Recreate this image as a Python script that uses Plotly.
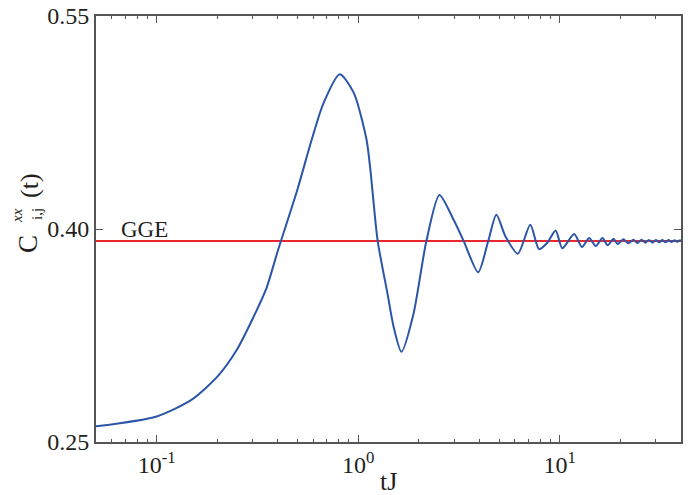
import plotly.graph_objects as go

# Correlation C_ij^xx(t) vs tJ
t_vals = [0.05, 0.10, 0.15, 0.20, 0.25, 0.30, 0.35, 0.40, 0.50, 0.58, 0.67, 0.81,
          0.95, 1.10, 1.15, 1.18, 1.25, 1.40, 1.50, 1.64, 1.88, 2.18, 2.53, 2.98, 3.34, 3.94, 4.42,
          4.85, 5.39, 6.20, 7.15, 7.90, 8.70, 9.55, 10.3, 11.8, 12.9, 14.0, 15.1,
          16.3, 17.3, 18.5, 19.4, 20.7, 21.9, 23.2, 24.3, 25.5, 26.6, 27.7, 28.9,
          30.0, 31.2, 32.3, 33.5, 34.7, 35.9, 37.1, 38.3, 39.5, 40.0]
c_vals = [0.261, 0.268, 0.280, 0.296, 0.315, 0.337, 0.358, 0.385, 0.428, 0.460, 0.488, 0.509,
          0.496, 0.463, 0.4416, 0.4254, 0.3915, 0.354, 0.331, 0.3135, 0.340, 0.3915, 0.424, 0.4063,
          0.3915, 0.3695, 0.3915,
          0.4100, 0.3946, 0.3826, 0.4030, 0.3858, 0.3905, 0.3990, 0.3864, 0.3964, 0.3873, 0.3936, 0.3880,
          0.3936, 0.3885, 0.3931, 0.3894, 0.3927, 0.3899, 0.3925, 0.3902, 0.3924, 0.3904, 0.3923, 0.3905,
          0.3923, 0.3906, 0.3922, 0.3907, 0.3922, 0.3908, 0.3921, 0.3909, 0.3920, 0.3915]

gge_value = 0.3915
gge_t = [0.05, 40.0]

y_ticks = [0.25, 0.40, 0.55]
y_ticktext = ["0.25", "0.40", "0.55"]
x_ticks = [0.1, 1, 10]
x_ticktext = ["10<sup>-1</sup>", "10<sup>0</sup>", "10<sup>1</sup>"]
x_minor = [0.06, 0.07, 0.08, 0.09, 0.2, 0.3, 0.4, 0.5, 0.6, 0.7, 0.8, 0.9,
           2, 3, 4, 5, 6, 7, 8, 9, 20, 30]

TXT = "#231f20"
AX = "#555555"
FONT = "Liberation Serif"

W, H = 688, 495
L, R, T, B = 96, 7, 16, 53
PW, PH = W - L - R, H - T - B


def px(xp):
    return (xp - L) / PW


def py(yp):
    return (H - B - yp) / PH


fig = go.Figure()
fig.add_trace(go.Scatter(x=gge_t, y=[gge_value, gge_value], mode="lines",
                         line=dict(color="#e8282c", width=2), showlegend=False,
                         hoverinfo="skip"))
fig.add_trace(go.Scatter(x=t_vals, y=c_vals, mode="lines",
                         line=dict(color="#2b55a8", width=2, shape="spline", smoothing=0.7),
                         showlegend=False))

fig.add_annotation(x=px(119), y=py(230), xref="paper", yref="paper", text="GGE", showarrow=False,
                   xanchor="left", yanchor="middle", font=dict(family=FONT, size=23, color=TXT))

# x-axis title
fig.add_annotation(x=0.5, y=py(481), xref="paper", yref="paper", text="tJ", showarrow=False,
                   xanchor="center", yanchor="middle", font=dict(family=FONT, size=26, color=TXT))

# y-axis title pieces (stacked super/subscript)
ytitle = [("C", 28, 244, 27, False),
          ("xx", 17, 216, 15, True),
          ("i,j", 37, 214, 15, False),
          ("(t)", 29, 186, 26, False)]
for txt, xx, yy, sz, ital in ytitle:
    fig.add_annotation(x=px(xx), y=py(yy), xref="paper", yref="paper",
                       text=f"<i>{txt}</i>" if ital else txt, showarrow=False, textangle=-90,
                       xanchor="center", yanchor="middle",
                       font=dict(family=FONT, size=sz, color=TXT))

fig.update_xaxes(type="log", range=[-1.301, 1.602], tickvals=x_ticks, ticktext=x_ticktext,
                 ticks="inside", ticklen=7, tickwidth=1, tickcolor=AX,
                 showline=True, linecolor=AX, linewidth=2, mirror="allticks",
                 showgrid=False, zeroline=False, automargin=False,
                 minor=dict(tickvals=x_minor, ticks="inside", ticklen=3, tickcolor=AX, showgrid=False),
                 tickfont=dict(family=FONT, size=24, color=TXT))
fig.update_yaxes(range=[0.25, 0.55], tickvals=y_ticks, ticktext=y_ticktext,
                 ticks="inside", ticklen=7, tickwidth=1, tickcolor=AX,
                 showline=True, linecolor=AX, linewidth=2, mirror="allticks",
                 showgrid=False, zeroline=False, automargin=False,
                 tickfont=dict(family=FONT, size=24, color=TXT))

fig.update_layout(width=W, height=H, margin=dict(l=L, r=R, t=T, b=B),
                  plot_bgcolor="white", paper_bgcolor="white")

fig.write_html("out.html", config={"displayModeBar": False},
               post_script="document.body.style.margin='0';document.body.style.overflow='hidden';")
